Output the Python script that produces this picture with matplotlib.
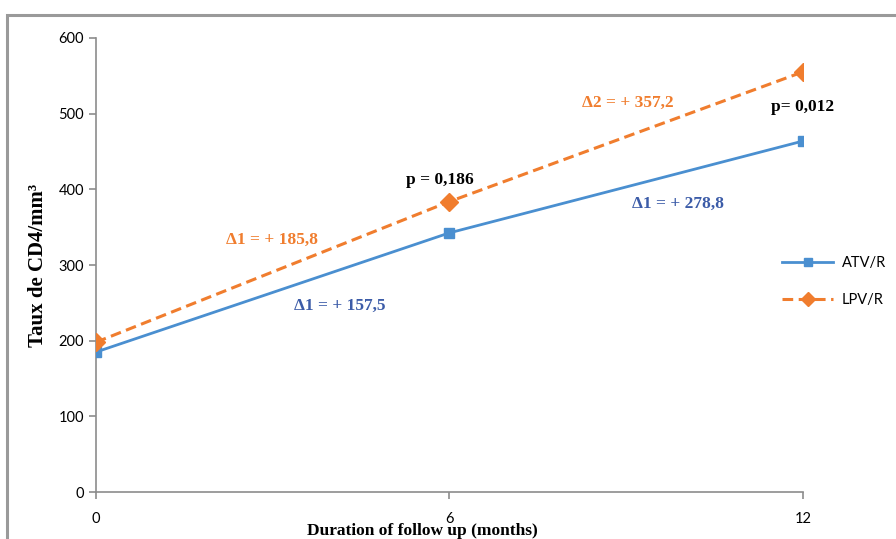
import matplotlib
matplotlib.use("Agg")
import matplotlib.pyplot as plt
from matplotlib.patches import Rectangle

# CD4 counts over follow-up, per regimen
months = [0, 6, 12]
atv_r = [185.0, 342.5, 463.8]
lpv_r = [198.0, 383.8, 555.2]
series_names = ["ATV/R", "LPV/R"]

BLUE = "#4a8fd0"
ORANGE = "#f07d2e"
TEXT_BLUE = "#3c5ca8"
TEXT_ORANGE = "#f07d2e"
AXIS_GREY = "#8c8c8c"

fig = plt.figure(figsize=(8.96, 5.39), dpi=100)
ax = fig.add_axes([0.107, 0.087, 0.789, 0.8425])

# outer chart frame, running off the right and bottom edges
fig.patches.append(Rectangle((7 / 896, -0.05), 1.0, 1 - 15 / 539 + 0.05,
                             transform=fig.transFigure, fill=False,
                             edgecolor="#9a9a9a", linewidth=2.2, zorder=0))

ax.plot(months, atv_r, color=BLUE, linewidth=2, marker="s", markersize=7,
        label=series_names[0], zorder=3)
ax.plot(months, lpv_r, color=ORANGE, linewidth=2.2, linestyle=(0, (3.5, 1.8)),
        marker="D", markersize=9, label=series_names[1], zorder=4)

ax.set_xlim(0, 12)
ax.set_ylim(0, 600)
ax.set_xticks(months)
ax.set_yticks(range(0, 601, 100))
for side in ("top", "right"):
    ax.spines[side].set_visible(False)
for side in ("left", "bottom"):
    ax.spines[side].set_color(AXIS_GREY)
    ax.spines[side].set_linewidth(1.2)
ax.tick_params(axis="both", colors=AXIS_GREY, length=5, width=1.2,
               labelcolor="black", labelsize=10.5)
ax.tick_params(axis="x", pad=9)
for lbl in ax.get_xticklabels() + ax.get_yticklabels():
    lbl.set_family("Lato")

ax.set_xlabel("Duration of follow up (months)", family="Liberation Serif",
              fontweight="bold", fontsize=12.5, va="center")
ax.xaxis.set_label_coords(0.4625, -0.086)
ax.set_ylabel("Taux de CD4/mm³", family="Liberation Serif",
              fontweight="bold", fontsize=15)
ax.yaxis.set_label_coords(-0.068, 0.5)

ax.legend(loc="center left", bbox_to_anchor=(0.952, 0.464), frameon=False,
          prop={"family": "Lato", "size": 10.5}, handlelength=3.5,
          handletextpad=0.6, labelspacing=1.6, markerscale=0.8)

# annotations
serif = dict(family="Liberation Serif", fontweight="bold", fontsize=12.5,
             ha="center", va="center")
ax.text(5.84, 413, "p = 0,186", color="black", **serif)
ax.text(12.0, 509, "p= 0,012", color="black", **serif)
ax.text(2.99, 333, "Δ1 = + 185,8", color=TEXT_ORANGE, **serif)
ax.text(4.14, 246, "Δ1 = + 157,5", color=TEXT_BLUE, **serif)
ax.text(9.88, 381, "Δ1 = + 278,8", color=TEXT_BLUE, **serif)
ax.text(9.03, 514, "Δ2 = + 357,2", color=TEXT_ORANGE, **serif)

fig.savefig("out.png", dpi=100)
